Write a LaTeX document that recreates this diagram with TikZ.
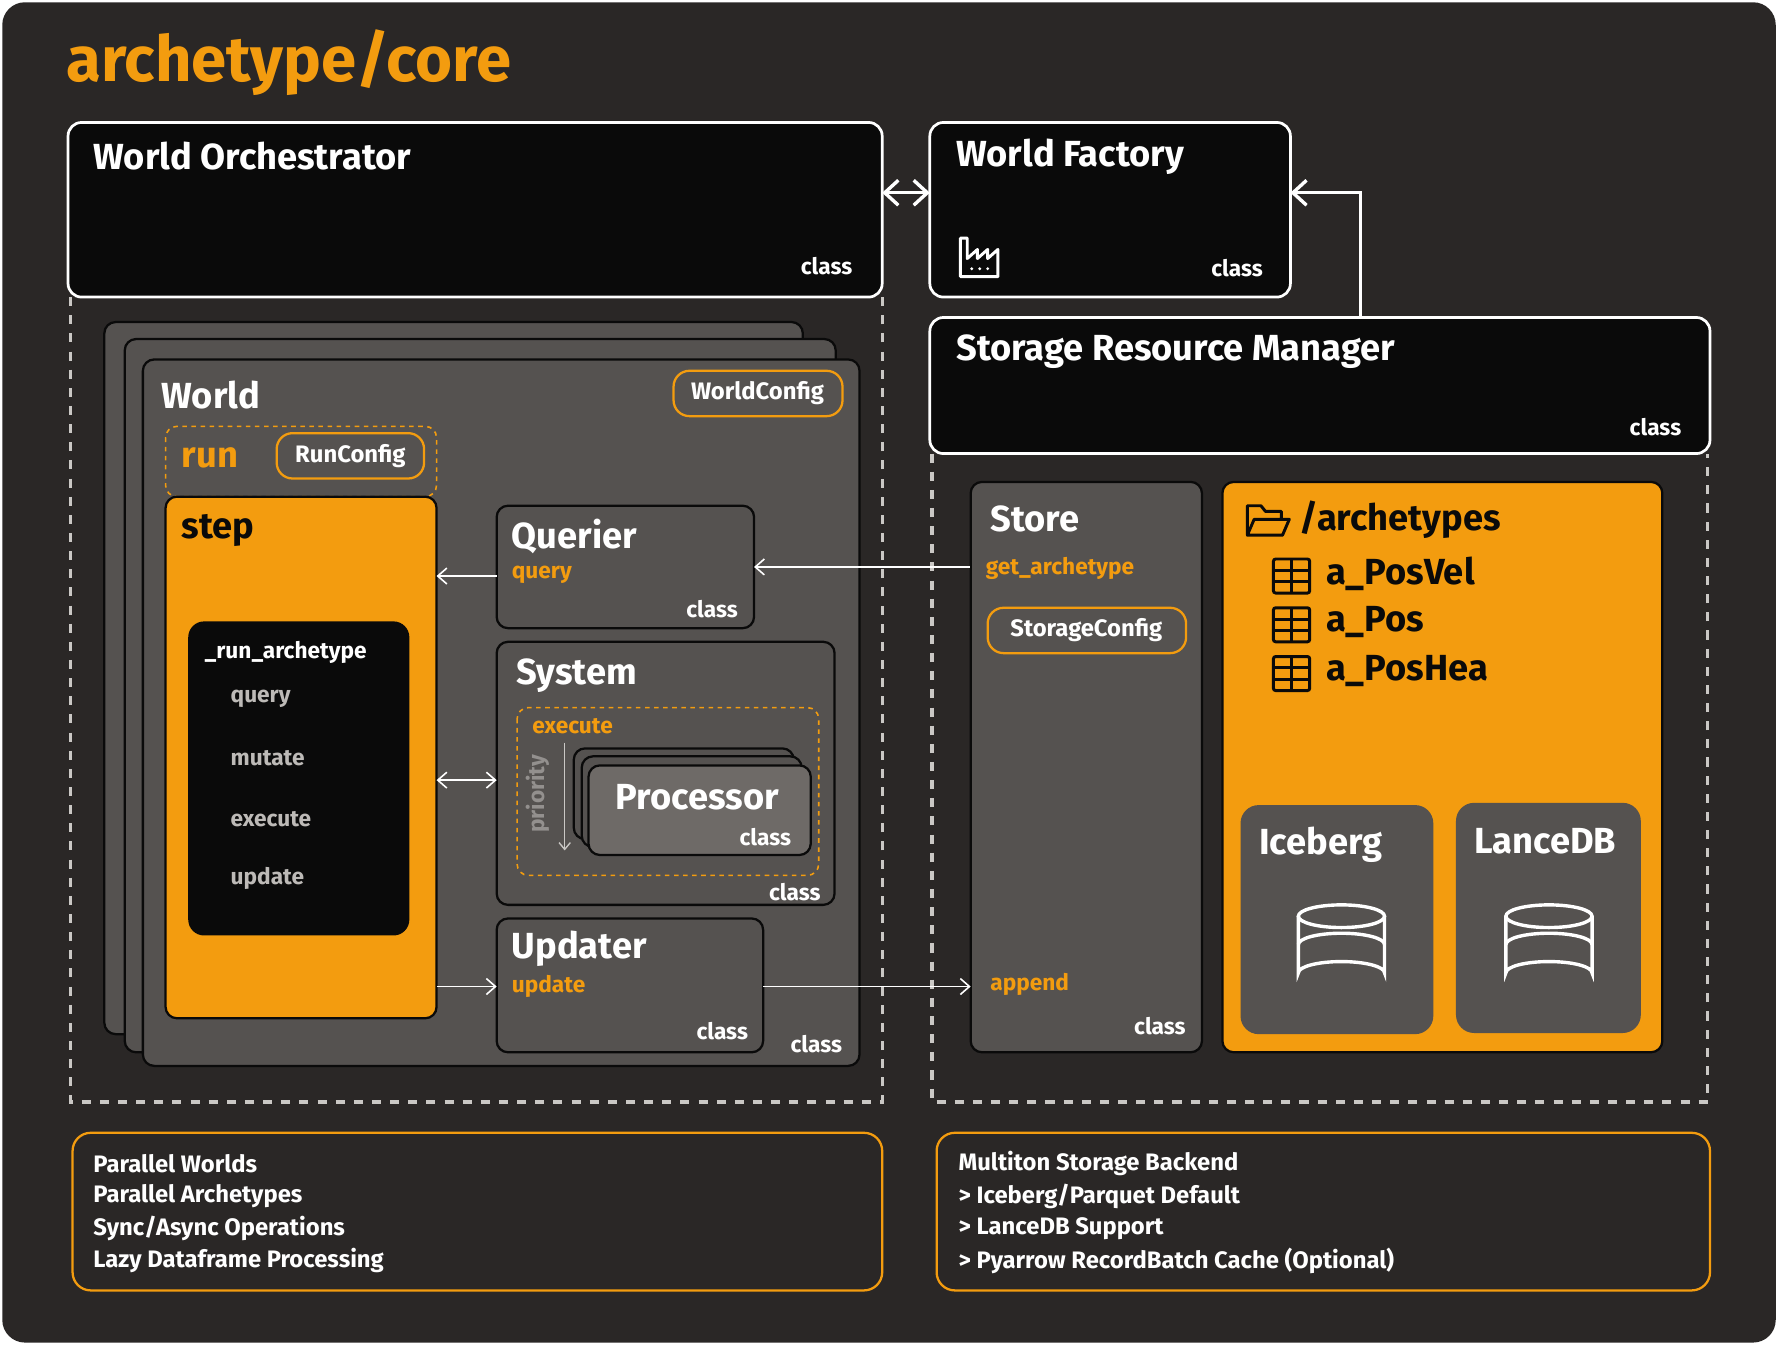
\documentclass[tikz,border=0pt]{standalone}
\usepackage{fontspec}
\setmainfont{Fira Sans}
\usetikzlibrary{arrows.meta}
\definecolor{bg}{HTML}{2A2726}
\definecolor{org}{HTML}{F39C0F}
\definecolor{gbox}{HTML}{555250}
\definecolor{gproc}{HTML}{6E6A67}
\definecolor{blk}{HTML}{0A0A0A}
\definecolor{lgray}{HTML}{BDBAB7}
\begin{document}
\begin{tikzpicture}[x=0.5pt,y=-0.5pt,
  wbox/.style={draw=white,line width=1.2pt,fill=blk,rounded corners=6pt},
  gb/.style={draw=blk,line width=1pt,fill=gbox,rounded corners=5pt},
  pill/.style={draw=org,line width=1pt,rounded corners=7pt},
  odash/.style={draw=org,dash pattern=on 2pt off 2pt,line width=0.7pt,rounded corners=5pt},
  gdash/.style={draw=lgray!80,dash pattern=on 4pt off 4pt,line width=1.5pt},
  ttl/.style={anchor=west,font=\bfseries\fontsize{16}{18}\selectfont,text=white,inner sep=0},
  cls/.style={anchor=east,font=\bfseries\fontsize{10}{12}\selectfont,text=white,inner sep=0},
  sm/.style={anchor=west,font=\bfseries\fontsize{10}{12}\selectfont,inner sep=0},
  arr/.style={draw=white,line width=0.7pt,-{Straight Barb[length=4pt,width=7pt]}},
  darr/.style={draw=white,line width=0.7pt,{Straight Barb[length=4pt,width=7pt]}-{Straight Barb[length=4pt,width=7pt]}},
  bigarr/.style={draw=white,line width=1.5pt,-{Straight Barb[length=6pt,width=11pt]}},
  bigdarr/.style={draw=white,line width=1.5pt,{Straight Barb[length=6pt,width=11pt]}-{Straight Barb[length=6pt,width=11pt]}}]
\useasboundingbox (0,0) rectangle (1568,1186);
\fill[bg,rounded corners=10pt] (2,2) rectangle (1566,1184);
\node[anchor=west,text=org,font=\bfseries\fontsize{28}{30}\selectfont,inner sep=0] (title) at (58,55) {archetype/core};
% dashed regions
\draw[gdash] (62,262) -- (62,972) -- (778,972) -- (778,262);
\draw[gdash] (822,400) -- (822,972) -- (1506,972) -- (1506,400);
% top boxes
\draw[wbox] (60,108) rectangle (778,262);
\node (wo) at (419,185) {};
\node[ttl] (wot) at (82,138) {World Orchestrator};
\node[cls] (woc) at (752,235) {class};
\draw[wbox] (820,108) rectangle (1138,262);
\node[ttl] (wft) at (843,138) {World Factory};
\node[cls] (wfc) at (1114,236) {class};
% factory icon
\draw[white,line width=1.3pt,line join=round] (847,244) -- (847,210) -- (853,210) -- (853,228) -- (862,220) -- (862,228) -- (871,220) -- (871,228) -- (880,220) -- (880,244) -- cycle;
\fill[white] (857,237) circle (1.4) (864,237) circle (1.4) (871,237) circle (1.4);
\draw[bigdarr] (778,170) -- (820,170);
\draw[wbox] (820,280) rectangle (1508,400);
\node[ttl] (srmt) at (843,310) {Storage Resource Manager};
\node[cls] (srmc) at (1483,377) {class};
\coordinate (srmtop) at (1200,280);
\coordinate (wfr) at (1138,170);
\draw[bigarr] (srmtop) |- (wfr);
% world stack
\draw[gb] (92,284) rectangle (708,912);
\draw[gb] (110,299) rectangle (737,928);
\draw[gb] (126,317) rectangle (758,940);
\node[ttl] (wt) at (142,348) {World};
\draw[pill] (594,327) rectangle (743,367);
\node[font=\bfseries\fontsize{10.5}{12}\selectfont,text=white] (wc) at (668,347) {WorldConfig};
\draw[odash] (146,376) rectangle (385,438);
\node[ttl,text=org] (runt) at (160,404) {run};
\draw[pill] (244,382) rectangle (374,422);
\node[font=\bfseries\fontsize{10.5}{12}\selectfont,text=white] (rc) at (309,402) {RunConfig};
\draw[draw=blk,fill=org,line width=1pt,rounded corners=5pt] (146,438) rectangle (385,898);
\node (step) at (265,668) {};
\node[ttl,text=blk] (stept) at (160,468) {step};
\fill[blk,rounded corners=7pt] (166,548) rectangle (361,825);
\node[sm,text=white] (ra) at (180,575) {\_run\_archetype};
\node[sm,text=lgray] (q1) at (203,616) {query};
\node[sm,text=lgray] (m1) at (203,669) {mutate};
\node[sm,text=lgray] (e1) at (203,722) {execute};
\node[sm,text=lgray] (u1) at (203,775) {update};
% Querier
\draw[gb] (438,446) rectangle (665,554);
\node[ttl] (qt) at (451,473) {Querier};
\node[sm,text=org] (qq) at (451,507) {query};
\node[cls] (qc) at (651,537) {class};
% System
\draw[gb] (438,566) rectangle (736,798);
\node[ttl] (st) at (455,596) {System};
\draw[odash] (456,624) rectangle (722,772);
\node[sm,text=org] (ex) at (469,640) {execute};
\node[rotate=90,font=\bfseries\fontsize{10}{12}\selectfont,text=lgray!60!gbox] (pr) at (474,700) {priority};
\draw[lgray!80,line width=0.6pt,-{Straight Barb[length=3pt,width=5pt]}] (498,655) -- (498,750);
\draw[gb] (506,660) rectangle (700,740);
\draw[gb] (513,667) rectangle (707,747);
\draw[draw=blk,line width=1pt,fill=gproc,rounded corners=5pt] (519,675) rectangle (715,754);
\node[font=\bfseries\fontsize{16}{18}\selectfont,text=white] (proc) at (615,703) {Processor};
\node[cls] (pc) at (698,738) {class};
\node[cls] (sc) at (724,787) {class};
% Updater
\draw[gb] (438,810) rectangle (673,928);
\node[ttl] (ut) at (451,837) {Updater};
\node[sm,text=org] (uu) at (451,870) {update};
\node[cls] (uc) at (660,909) {class};
\node[cls] (wcl) at (743,921) {class};
% Store
\draw[gb] (856,425) rectangle (1060,928);
\node[ttl] (stt) at (873,458) {Store};
\node[sm,text=org] (ga) at (869,501) {get\_archetype};
\draw[pill] (871,536) rectangle (1046,576);
\node[font=\bfseries\fontsize{10.5}{12}\selectfont,text=white] (sconf) at (958,556) {StorageConfig};
\node[sm,text=org] (ap) at (873,868) {append};
\node[cls] (stc) at (1046,905) {class};
% connectors
\coordinate (qL) at (438,508); \coordinate (sR1) at (385,508);
\draw[arr] (qL) -- (sR1);
\coordinate (gaL) at (855,500); \coordinate (qR) at (665,500);
\draw[arr] (gaL) -- (qR);
\coordinate (sR2) at (385,688); \coordinate (sysL) at (438,688);
\draw[darr] (sR2) -- (sysL);
\coordinate (sR3) at (385,870); \coordinate (uL) at (438,870);
\draw[arr] (sR3) -- (uL);
\coordinate (uR) at (673,870); \coordinate (apL) at (856,870);
\draw[arr] (uR) -- (apL);
% archetypes
\draw[draw=blk,fill=org,line width=1pt,rounded corners=5pt] (1078,425) rectangle (1466,928);
\draw[blk,line width=1.3pt,line join=round] (1100,472) -- (1100,446) -- (1112,446) -- (1116,451) -- (1130,451) -- (1130,458) (1100,472) -- (1106,458) -- (1137,458) -- (1131,472) -- cycle;
\node[ttl,text=blk] (arch) at (1146,458) {/archetypes};
\foreach \y/\t [count=\i] in {508/a\_PosVel,551/a\_Pos,594/a\_PosHea}{
  \draw[blk,line width=1.3pt,rounded corners=1pt] (1123,\y-15) rectangle (1155,\y+15);
  \draw[blk,line width=1.3pt] (1123,\y-5) -- (1155,\y-5) (1123,\y+5) -- (1155,\y+5) (1139,\y-15) -- (1139,\y+15);
  \node[ttl,text=blk] (t\i) at (1169,\y-2) {\t};
}
\fill[gbox,rounded corners=8pt] (1094,710) rectangle (1264,912);
\node[ttl] (ice) at (1110,745) {Iceberg};
\fill[gbox,rounded corners=8pt] (1284,708) rectangle (1447,911);
\node[ttl] (lan) at (1300,742) {LanceDB};
\foreach \cx in {1183,1366}{
  \begin{scope}[shift={(\cx,830)}]
  \draw[white,line width=1.5pt] (-38,-22) -- (-38,28) arc[start angle=180,end angle=360,x radius=38,y radius=10] -- (38,-22);
  \draw[white,line width=1.5pt] (0,-22) ellipse[x radius=38,y radius=10];
  \draw[white,line width=1.5pt] (-38,3) arc[start angle=180,end angle=360,x radius=38,y radius=10];
  \end{scope}
}
% bottom boxes
\draw[org,line width=1pt,rounded corners=8pt] (64,999) rectangle (778,1138);
\draw[org,line width=1pt,rounded corners=8pt] (826,999) rectangle (1508,1138);
\foreach \t [count=\i] in {Parallel Worlds,Parallel Archetypes,Sync/Async Operations,Lazy Dataframe Processing}
  \node[sm,text=white,font=\bfseries\fontsize{10.5}{12}\selectfont] (l\i) at (82,998+28.4*\i) {\t};
\foreach \t [count=\i] in {Multiton Storage Backend,> Iceberg/Parquet Default,> LanceDB Support,> Pyarrow RecordBatch Cache (Optional)}
  \node[sm,text=white,font=\bfseries\fontsize{10.5}{12}\selectfont] (r\i) at (845,998+28.4*\i) {\t};
\end{tikzpicture}
\end{document}
